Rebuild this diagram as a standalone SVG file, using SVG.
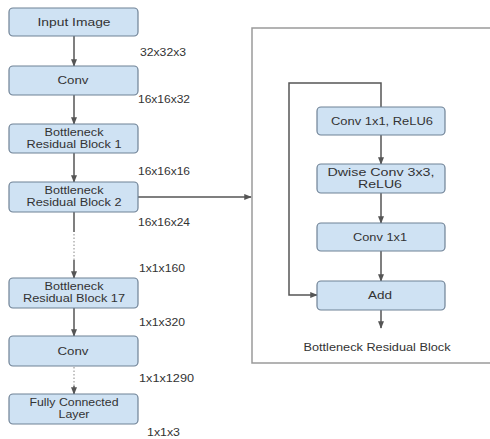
<svg xmlns="http://www.w3.org/2000/svg" width="490" height="439" viewBox="0 0 490 439">
  <defs>
    <marker id="arrow" viewBox="0 0 10 10" refX="9" refY="5" markerWidth="5" markerHeight="5" orient="auto">
      <path d="M0,1 L10,5 L0,9 z" fill="#555"/>
    </marker>
    <style>
      .box { fill: #cfe2f3; stroke: #6f8296; stroke-width: 1.2; }
      .lbl { font-family: "Liberation Sans", Arial, sans-serif; font-size: 10px; fill: #333; text-anchor: middle; }
      .big { font-size: 11px; }
      .dim { font-family: "Liberation Sans", Arial, sans-serif; font-size: 10px; fill: #333; }
      .wire { fill: none; stroke: #555; stroke-width: 1.5; }
      .dots { fill: none; stroke: #888; stroke-width: 1; stroke-dasharray: 1.5 2; }
      .frame { fill: none; stroke: #9a9a9a; stroke-width: 1.5; }
    </style>
  </defs>

  <rect width="490" height="439" fill="#ffffff"/>

  <!-- container of the expanded block -->
  <path class="frame" d="M492,28 H252 V363 H492"/>
  <text class="lbl" x="377" y="351" textLength="147" lengthAdjust="spacingAndGlyphs">Bottleneck Residual Block</text>

  <!-- connectors -->
  <g id="connectors">
    <line class="wire" x1="74" y1="36" x2="74" y2="66" marker-end="url(#arrow)"/>
    <line class="wire" x1="74" y1="95" x2="74" y2="124" marker-end="url(#arrow)"/>
    <line class="wire" x1="74" y1="153" x2="74" y2="182" marker-end="url(#arrow)"/>
    <line class="wire" x1="74" y1="212" x2="74" y2="232"/>
    <line class="dots" x1="74" y1="234" x2="74" y2="260"/>
    <line class="wire" x1="74" y1="260" x2="74" y2="278" marker-end="url(#arrow)"/>
    <line class="wire" x1="74" y1="308" x2="74" y2="336" marker-end="url(#arrow)"/>
    <line class="dots" x1="74" y1="367" x2="74" y2="388"/>
    <line class="wire" x1="74" y1="386" x2="74" y2="394" marker-end="url(#arrow)"/>
    <line class="wire" x1="138" y1="197" x2="251" y2="197" marker-end="url(#arrow)"/>

    <path class="wire" d="M381,107 V83 H289 V295 H317" marker-end="url(#arrow)"/>
    <line class="wire" x1="381" y1="135" x2="381" y2="164" marker-end="url(#arrow)"/>
    <line class="wire" x1="381" y1="193" x2="381" y2="223" marker-end="url(#arrow)"/>
    <line class="wire" x1="381" y1="251" x2="381" y2="281" marker-end="url(#arrow)"/>
    <line class="wire" x1="381" y1="310" x2="381" y2="328" marker-end="url(#arrow)"/>
  </g>

  <!-- tensor shapes -->
  <g id="shapes">
    <text class="dim" x="140" y="56" textLength="46" lengthAdjust="spacingAndGlyphs">32x32x3</text>
    <text class="dim" x="138" y="103" textLength="52" lengthAdjust="spacingAndGlyphs">16x16x32</text>
    <text class="dim" x="138" y="175" textLength="52" lengthAdjust="spacingAndGlyphs">16x16x16</text>
    <text class="dim" x="138" y="226" textLength="52" lengthAdjust="spacingAndGlyphs">16x16x24</text>
    <text class="dim" x="139" y="272" textLength="46" lengthAdjust="spacingAndGlyphs">1x1x160</text>
    <text class="dim" x="139" y="326" textLength="46" lengthAdjust="spacingAndGlyphs">1x1x320</text>
    <text class="dim" x="139" y="382" textLength="55" lengthAdjust="spacingAndGlyphs">1x1x1290</text>
    <text class="dim" x="147" y="436" textLength="33" lengthAdjust="spacingAndGlyphs">1x1x3</text>
  </g>

  <!-- main network -->
  <g id="input">
    <rect class="box" x="9" y="8" width="129" height="28" rx="4"/>
    <text class="lbl big" x="74" y="26" textLength="73" lengthAdjust="spacingAndGlyphs">Input Image</text>
  </g>
  <g id="conv1">
    <rect class="box" x="9" y="66" width="129" height="29" rx="4"/>
    <text class="lbl big" x="73" y="84" textLength="31" lengthAdjust="spacingAndGlyphs">Conv</text>
  </g>
  <g id="block1">
    <rect class="box" x="9" y="124" width="129" height="29" rx="4"/>
    <text class="lbl" x="74" y="136" textLength="59" lengthAdjust="spacingAndGlyphs">Bottleneck</text>
    <text class="lbl" x="74" y="148" textLength="95" lengthAdjust="spacingAndGlyphs">Residual Block 1</text>
  </g>
  <g id="block2">
    <rect class="box" x="9" y="182" width="129" height="30" rx="4"/>
    <text class="lbl" x="74" y="194" textLength="59" lengthAdjust="spacingAndGlyphs">Bottleneck</text>
    <text class="lbl" x="74" y="206" textLength="95" lengthAdjust="spacingAndGlyphs">Residual Block 2</text>
  </g>
  <g id="block17">
    <rect class="box" x="9" y="278" width="129" height="30" rx="4"/>
    <text class="lbl" x="74" y="290" textLength="59" lengthAdjust="spacingAndGlyphs">Bottleneck</text>
    <text class="lbl" x="74" y="302" textLength="102" lengthAdjust="spacingAndGlyphs">Residual Block 17</text>
  </g>
  <g id="conv2">
    <rect class="box" x="9" y="336" width="129" height="30" rx="4"/>
    <text class="lbl big" x="73" y="355" textLength="31" lengthAdjust="spacingAndGlyphs">Conv</text>
  </g>
  <g id="fc">
    <rect class="box" x="9" y="394" width="129" height="30" rx="4"/>
    <text class="lbl" x="74" y="406" textLength="89" lengthAdjust="spacingAndGlyphs">Fully Connected</text>
    <text class="lbl" x="74" y="418" textLength="31" lengthAdjust="spacingAndGlyphs">Layer</text>
  </g>

  <!-- expanded bottleneck block -->
  <g id="expand">
    <rect class="box" x="317" y="107" width="128" height="28" rx="4"/>
    <text class="lbl" x="382" y="125" textLength="102" lengthAdjust="spacingAndGlyphs">Conv 1x1, ReLU6</text>
  </g>
  <g id="dwise">
    <rect class="box" x="317" y="164" width="128" height="29" rx="4"/>
    <text class="lbl" x="381" y="176" textLength="107" lengthAdjust="spacingAndGlyphs">Dwise Conv 3x3,</text>
    <text class="lbl" x="380" y="188" textLength="44" lengthAdjust="spacingAndGlyphs">ReLU6</text>
  </g>
  <g id="project">
    <rect class="box" x="317" y="223" width="128" height="28" rx="4"/>
    <text class="lbl" x="380" y="241" textLength="54" lengthAdjust="spacingAndGlyphs">Conv 1x1</text>
  </g>
  <g id="add">
    <rect class="box" x="317" y="281" width="128" height="29" rx="4"/>
    <text class="lbl" x="380" y="299" textLength="24" lengthAdjust="spacingAndGlyphs">Add</text>
  </g>
</svg>
